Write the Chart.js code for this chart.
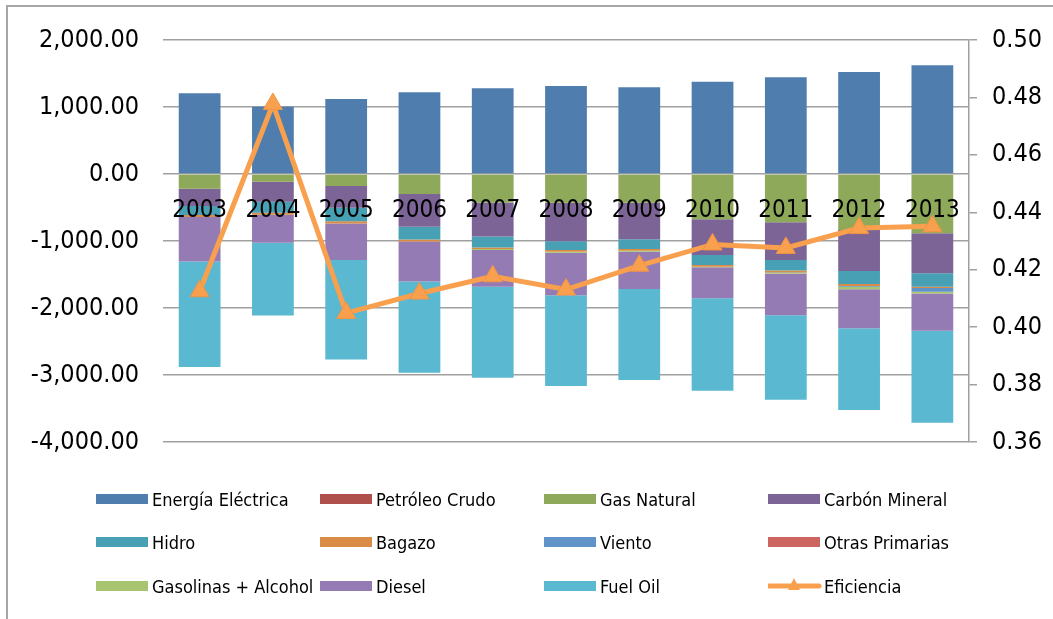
<!DOCTYPE html>
<html>
<head>
<meta charset="utf-8">
<script src="https://cdn.jsdelivr.net/npm/chart.js@4/dist/chart.umd.min.js"></script>
<style>
  body { margin: 0; background: #fff; width: 1053px; height: 619px; overflow: hidden; position: relative; font-family: "DejaVu Sans Condensed", "DejaVu Sans", sans-serif; }
  #frame { position: absolute; left: 6px; top: 5px; width: 1100px; height: 700px; border-left: 2px solid #a6a6a6; border-top: 2px solid #a6a6a6; }
  canvas { position: absolute; left: 0; top: 0; }
  #legend { position: absolute; left: 0; top: 0; }
  .item { position: absolute; height: 24px; display: flex; align-items: center; font-size: 18px; color: #000; white-space: nowrap; }
  .sw { width: 52px; height: 10px; margin-right: 4px; }
</style>
</head>
<body>
<div id="frame"></div>
<canvas id="chart" width="1053" height="619"></canvas>
<div id="legend"></div>
<script>
let years = ["2003", "2004", "2005", "2006", "2007", "2008", "2009", "2010", "2011", "2012", "2013"];

let energia   = [1204, 1005, 1119, 1219, 1279, 1313, 1294, 1378, 1443, 1522, 1622];
let petroleo  = [0, 0, 0, 0, 0, 0, 0, 0, 0, 0, 0];
let gas       = [-220, -115, -179, -299, -425, -430, -428, -677, -721, -836, -886];
let carbon    = [-258, -300, -324, -488, -507, -572, -547, -532, -562, -612, -597];
let hidro     = [-134, -164, -204, -189, -164, -134, -144, -149, -159, -194, -199];
let bagazo    = [-30, -30, -30, -30, -25, -25, -25, -25, -30, -30, -20];
let viento    = [0, 0, 0, 0, 0, 0, 0, 0, -5, -10, -55];
let otras     = [0, 0, 0, 0, 0, 0, 0, 0, 0, 0, 0];
let gasolinas = [0, 0, 0, 0, -15, -15, -15, -10, -10, -40, -25];
let diesel    = [-663, -418, -547, -597, -547, -632, -557, -463, -622, -582, -557];
let fuelOil   = [-1576, -1084, -1483, -1363, -1358, -1358, -1358, -1378, -1259, -1219, -1373];

let eficiencia = [0.4125, 0.4777, 0.4049, 0.4117, 0.4177, 0.4131, 0.4214, 0.4288, 0.4276, 0.4345, 0.4351];

let series = [
  ["Energía Eléctrica", energia, "#4f7eae"],
  ["Petróleo Crudo", petroleo, "#b0504d"],
  ["Gas Natural", gas, "#8fa95a"],
  ["Carbón Mineral", carbon, "#7d6496"],
  ["Hidro", hidro, "#48a0b4"],
  ["Bagazo", bagazo, "#d88c45"],
  ["Viento", viento, "#6094c9"],
  ["Otras Primarias", otras, "#cc6560"],
  ["Gasolinas + Alcohol", gasolinas, "#a9c46e"],
  ["Diesel", diesel, "#957bb3"],
  ["Fuel Oil", fuelOil, "#5ab8d1"]
];
let lineColor = "#f9a04f";
let gridColor = "#a0a0a0";
let font = "'DejaVu Sans Condensed', 'DejaVu Sans', sans-serif";

let datasets = series.map(s => ({
  type: "bar",
  label: s[0],
  data: s[1],
  backgroundColor: s[2],
  borderWidth: 0,
  yAxisID: "y",
  stack: "s",
  order: 1,
  barPercentage: 0.57,
  categoryPercentage: 1
}));

datasets.push({
  type: "line",
  label: "Eficiencia",
  data: eficiencia,
  yAxisID: "y2",
  borderColor: lineColor,
  borderWidth: 5,
  tension: 0,
  pointStyle: "triangle",
  pointRadius: 11,
  pointHoverRadius: 11,
  pointBackgroundColor: lineColor,
  pointBorderColor: "#ef9443",
  pointBorderWidth: 1,
  order: 0
});

new Chart(document.getElementById("chart"), {
  data: { labels: years, datasets: datasets },
  options: {
    responsive: false,
    animation: false,
    layout: { padding: { top: 40, bottom: 177, left: 0, right: 0 } },
    plugins: { legend: { display: false }, tooltip: { enabled: false } },
    scales: {
      x: {
        stacked: true,
        position: { y: 0 },
        grid: { display: false, drawTicks: false },
        border: { display: false },
        ticks: { z: 1, color: "#000", font: { family: font, size: 24 }, padding: 22, maxRotation: 0, autoSkip: false }
      },
      y: {
        stacked: true,
        position: "left",
        min: -4000,
        max: 2000,
        grid: { color: gridColor, lineWidth: 1.5, drawTicks: false },
        border: { display: false },
        ticks: {
          stepSize: 1000,
          color: "#000",
          padding: 24,
          font: { family: font, size: 25 },
          callback: v => v.toLocaleString("en-US", { minimumFractionDigits: 2, maximumFractionDigits: 2 })
        },
        afterFit: s => { s.width = 163; }
      },
      y2: {
        position: "right",
        min: 0.36,
        max: 0.50,
        grid: { drawOnChartArea: false, color: gridColor, lineWidth: 1.5, tickLength: 8 },
        border: { display: true, color: gridColor, width: 1.5 },
        ticks: {
          stepSize: 0.02,
          color: "#000",
          padding: 15,
          font: { family: font, size: 25 },
          callback: v => v.toFixed(2)
        },
        afterFit: s => { s.width = 84; }
      }
    }
  }
});

// legend, 4 columns x 3 rows
let legend = document.getElementById("legend");
let colX = [96, 320, 544, 768];
let rowY = [487, 530, 574];
let entries = series.map(s => [s[0], s[2]]).concat([["Eficiencia", null]]);
entries.forEach((e, i) => {
  let div = document.createElement("div");
  div.className = "item";
  div.style.left = colX[i % 4] + "px";
  div.style.top = rowY[Math.floor(i / 4)] + "px";
  let sw;
  if (e[1]) {
    sw = '<div class="sw" style="background:' + e[1] + '"></div>';
  } else {
    sw = '<svg width="56" height="24" style="margin-right:0"><line x1="1" y1="12" x2="51" y2="12" stroke="' + lineColor +
      '" stroke-width="5" stroke-linecap="round"/><polygon points="26,4 32,16 20,16" fill="' + lineColor + '"/></svg>';
  }
  div.innerHTML = sw + "<span>" + e[0] + "</span>";
  legend.appendChild(div);
});
</script>
</body>
</html>
